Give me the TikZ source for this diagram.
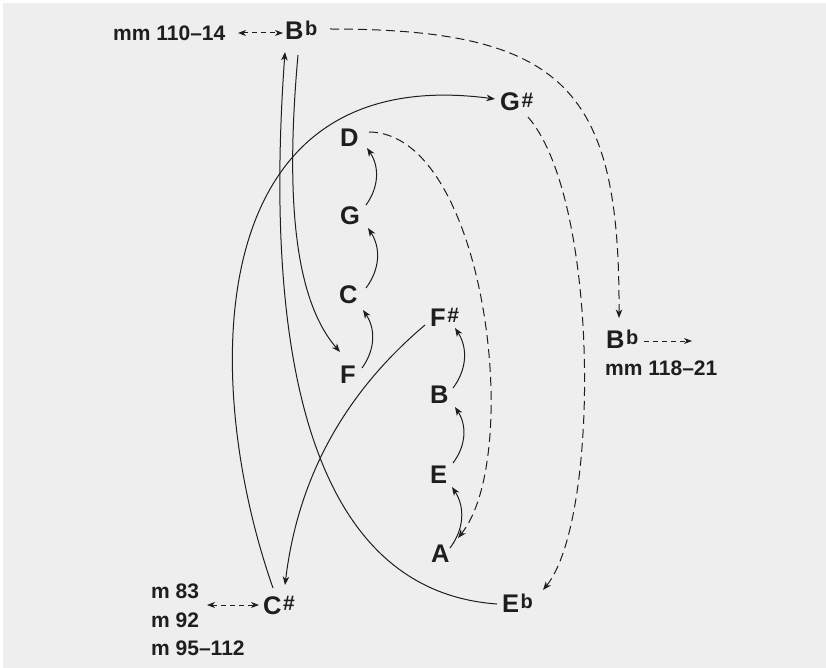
\documentclass[tikz,border=0pt]{standalone}
\usepackage{fontspec}
\setmainfont{Liberation Sans}
\usetikzlibrary{arrows.meta}
\definecolor{bg}{HTML}{EEEEEE}
\definecolor{ink}{HTML}{1E1E1E}
\newcommand{\myflat}{\kern1.5pt\raisebox{4pt}{\fontsize{20}{20}\selectfont b}}
\newcommand{\mysharp}{\kern1.5pt\raisebox{3.5pt}{\fontsize{21}{21}\selectfont\#}}
\tikzset{
  note/.style={font=\fontsize{25.5}{25.5}\selectfont\bfseries, text=ink, inner sep=0pt, anchor=base west},
  lab/.style={font=\fontsize{21}{21}\selectfont\bfseries, text=ink, inner sep=0pt, anchor=base west},
  conn/.style={draw=ink, line width=1pt, -{Stealth[length=8.5pt,width=6.5pt,inset=2.5pt]}},
  dconn/.style={conn, dash pattern=on 9pt off 5pt},
  sdash/.style={draw=ink, line width=1pt, dash pattern=on 5pt off 4pt},
  sarr/.style={sdash, -{Stealth[length=8pt,width=6pt,inset=2.5pt]}},
  darr/.style={sdash, {Stealth[length=8pt,width=6pt,inset=2.5pt]}-{Stealth[length=8pt,width=6pt,inset=2.5pt]}}
}
\begin{document}
\begin{tikzpicture}[x=1pt,y=-1pt]
\fill[white] (0,0) rectangle (826,668);
\fill[bg] (3,3) rectangle (826,668);
\useasboundingbox (0,0) rectangle (826,668);

% nodes
\node[lab] (mmA) at (113,41) {mm 110--14};
\node[note] (Bbt) at (285,40) {B\myflat};
\node[note] (Gs) at (500,111) {G\mysharp};
\node[note] (D) at (340,147) {D};
\node[note] (G) at (340,225) {G};
\node[note] (C) at (339,303) {C};
\node[note] (F) at (340,383) {F};
\node[note] (Fs) at (430,326) {F\mysharp};
\node[note] (B) at (430,403) {B};
\node[note] (E) at (430,483) {E};
\node[note] (A) at (431,562) {A};
\node[note] (Eb) at (502,612) {E\myflat};
\node[note] (Cs) at (263,614) {C\mysharp};
\node[note] (Bbr) at (606,348) {B\myflat};
\node[lab] (mmB) at (605,375) {mm 118--21};
\node[lab] (m83) at (151,598) {m 83};
\node[lab] (m92) at (151,627) {m 92};
\node[lab] (m95) at (151,655) {m 95--112};
\coordinate (outR) at (692,341);

% short dashed arrows
\draw[darr] ([shift={(125,-8)}]mmA.base west) -- ([shift={(-2,-7)}]Bbt.base west);
\draw[sarr] ([shift={(38,-7)}]Bbr.base west) -- (outR);
\draw[darr] ([shift={(56,-22)}]m92.base west) -- ([shift={(-4,-9)}]Cs.base west);

% small arcs
\draw[conn] ([shift={(22,-15)}]F.base west) to[bend right=35] ([shift={(24,7)}]C.base west);
\draw[conn] ([shift={(27,-15)}]C.base west) to[bend right=35] ([shift={(28,3)}]G.base west);
\draw[conn] ([shift={(26,-20)}]G.base west) to[bend right=35] ([shift={(27,1)}]D.base west);
\draw[conn] ([shift={(19,-14)}]A.base west) to[bend right=35] ([shift={(22,4)}]E.base west);
\draw[conn] ([shift={(23,-20)}]E.base west) to[bend right=35] ([shift={(25,4)}]B.base west);
\draw[conn] ([shift={(23,-15)}]B.base west) to[bend right=35] ([shift={(25,2)}]Fs.base west);

% long dashed curves
\draw[dconn] ([shift={(45,-11)}]Bbt.base west) .. controls +(236,0) and +(1,-228) .. ([shift={(13,-30)}]Bbr.base west);
\draw[dconn] ([shift={(28,6)}]Gs.base west) .. controls +(72,83) and +(57,-70) .. ([shift={(41,-22)}]Eb.base west);
\draw[dconn] ([shift={(29,-15)}]D.base west) .. controls +(116,1) and +(66,-83) .. ([shift={(27,-24)}]A.base west);

% long solid curves
\draw[conn] ([shift={(13,15)}]Bbt.base west) .. controls +(-13,145) and +(-45,-52) .. ([shift={(0,-31)}]F.base west);
\draw[conn] ([shift={(-5,-8)}]Eb.base west) .. controls +(-197,-14) and +(-20,278) .. ([shift={(0,12)}]Bbt.base west);
\draw[conn] ([shift={(10,-26)}]Cs.base west) .. controls +(-73,-208) and +(-295,-39) .. ([shift={(-5,-12)}]Gs.base west);
\draw[conn] ([shift={(-5,-1)}]Fs.base west) .. controls +(-65,55) and +(15,-125) .. ([shift={(22,-29)}]Cs.base west);
\end{tikzpicture}
\end{document}
